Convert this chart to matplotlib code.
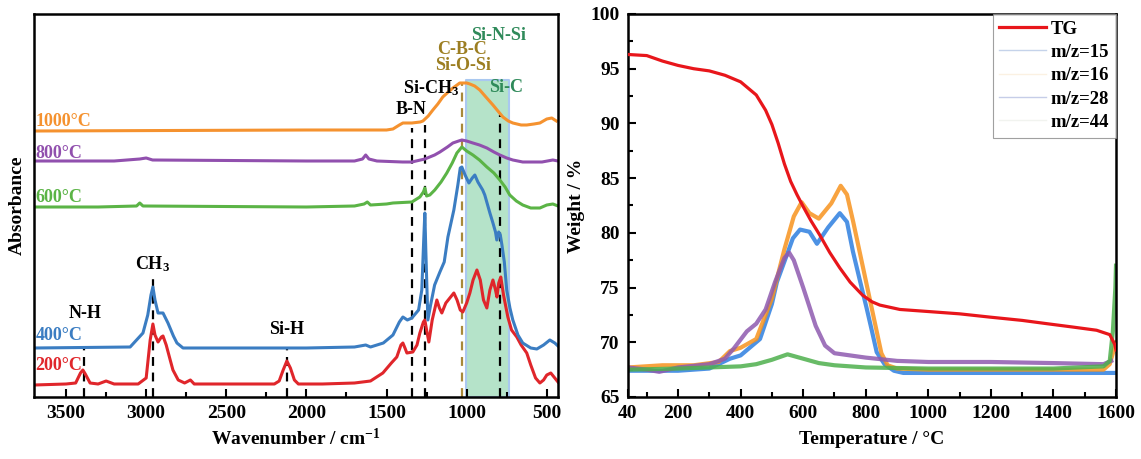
import numpy as np
import matplotlib
matplotlib.use("Agg")
from matplotlib import pyplot as plt
from matplotlib.ticker import MultipleLocator, FixedLocator

plt.rcParams['font.family'] = ['Liberation Serif', 'DejaVu Serif']
plt.rcParams['font.weight'] = 'bold'
plt.rcParams['mathtext.fontset'] = 'custom'
plt.rcParams['mathtext.rm'] = 'Liberation Serif:bold'
plt.rcParams['mathtext.it'] = 'Liberation Serif:bold'
plt.rcParams['mathtext.bf'] = 'Liberation Serif:bold'
plt.rcParams['axes.linewidth'] = 1.8

# ---------------- FTIR spectra (stacked, arbitrary units) ----------------
wn_200 = [3700, 3500, 3440, 3410, 3395, 3380, 3350, 3300, 3250, 3200, 3050, 3000, 2975, 2958, 2945,
          2926, 2905, 2895, 2875, 2850, 2833, 2800, 2760, 2724, 2700, 2200, 2170, 2145, 2122, 2100,
          2075, 2050, 1900, 1700, 1600, 1523, 1470, 1436, 1410, 1398, 1385, 1373, 1336, 1310, 1292,
          1270, 1261, 1250, 1236, 1215, 1186, 1170, 1155, 1130, 1105, 1080, 1060, 1040, 1024, 1000,
          980, 960, 936, 915, 895, 874, 855, 836, 820, 811, 800, 787, 770, 743, 720, 687, 660, 625,
          600, 570, 543, 520, 500, 475, 450, 430]
ab_200 = [12, 13, 14, 24, 27, 23, 14, 13, 16, 13, 13, 19, 57, 73, 62,
          55, 60, 61, 52, 37, 27, 17, 14, 17, 13, 13, 16, 27, 36, 29,
          17, 13, 13, 14, 16, 24, 34, 40, 52, 54, 49, 44, 45, 52, 64,
          75, 77, 67, 55, 77, 97, 89, 84, 94, 99, 104, 97, 87, 85, 94,
          104, 117, 127, 117, 97, 89, 107, 117, 107, 100, 114, 120, 102, 80, 67, 60, 52, 44,
          32, 19, 14, 17, 22, 24, 19, 15]

wn_400 = [3700, 3100, 3020, 2990, 2970, 2958, 2945, 2926, 2895, 2864, 2830, 2808, 2770, 2000, 1700,
          1630, 1600, 1520, 1460, 1420, 1398, 1370, 1342, 1300, 1280, 1268, 1261, 1255, 1242, 1225,
          1200, 1167, 1140, 1117, 1080, 1055, 1040, 1030, 1010, 986, 965, 949, 930, 900, 887, 855,
          836, 820, 812, 800, 790, 780, 765, 750, 730, 712, 680, 650, 600, 562, 520, 481, 450, 430]
ab_400 = [49, 50, 64, 82, 102, 110, 97, 84, 84, 74, 61, 54, 49, 49, 50,
          52, 50, 54, 62, 75, 80, 77, 79, 87, 107, 157, 184, 147, 77, 92,
          112, 125, 135, 160, 187, 212, 229, 230, 222, 214, 219, 222, 215, 207, 202, 184,
          174, 165, 157, 165, 162, 152, 135, 107, 89, 77, 62, 54, 49, 48, 52, 57, 54, 51]

wn_600 = [3700, 3300, 3060, 3040, 3020, 2000, 1700, 1640, 1620, 1600, 1500, 1460, 1342, 1292, 1270,
          1261, 1250, 1230, 1199, 1160, 1124, 1090, 1061, 1030, 1000, 961, 920, 874, 830, 793, 760,
          731, 690, 650, 600, 543, 500, 462, 430]
ab_600 = [190, 190, 191, 194, 191, 190, 191, 193, 195, 192, 193, 194, 195, 200, 205,
          209, 201, 202, 207, 215, 224, 234, 244, 250, 246, 242, 237, 230, 224, 217, 210,
          202, 196, 192, 189, 189, 192, 193, 191]

wn_800 = [3700, 3200, 3040, 3000, 2960, 2000, 1700, 1650, 1630, 1610, 1560, 1400, 1342, 1261, 1200,
          1167, 1120, 1086, 1050, 1030, 1000, 961, 920, 874, 830, 793, 750, 712, 650, 587, 530, 462, 430]
ab_800 = [236, 236, 238, 239, 237, 236, 236, 238, 242, 238, 236, 235, 235, 238, 242,
          245, 250, 254, 256, 257, 256, 254, 252, 249, 245, 242, 239, 237, 235, 235, 235, 237, 236]

wn_1000 = [3700, 2000, 1700, 1600, 1500, 1460, 1420, 1398, 1342, 1290, 1273, 1240, 1211, 1180, 1149,
           1115, 1086, 1060, 1043, 1000, 980, 950, 918, 880, 836, 800, 774, 740, 712, 660, 625, 580,
           543, 500, 469, 440]
ab_1000 = [266, 267, 267, 267, 267, 268, 272, 274, 274, 275, 276, 281, 287, 293, 300,
           305, 309, 312, 314, 314, 313, 311, 307, 300, 292, 285, 280, 276, 274, 272, 272, 273,
           274, 278, 279, 276]

spectra = [
    (wn_200, ab_200, '#E0262B', '200°C', 32),
    (wn_400, ab_400, '#3B7DC2', '400°C', 62),
    (wn_600, ab_600, '#5BB446', '600°C', 199),
    (wn_800, ab_800, '#9150AE', '800°C', 244),
    (wn_1000, ab_1000, '#F5922F', '1000°C', 276),
]

# band assignments: (wavenumber, top of dashed line, colour)
band_lines = [(3390, 49, 'k'), (2958, 120, 'k'), (2122, 49, 'k'), (1342, 269, 'k'),
              (1261, 272, 'k'), (1030, 314, '#A8893A'), (793, 282, 'k')]
band_labels = [
    ("N-H", 3382, 84, 'k'), ("CH$_3$", 2958, 133, 'k'), ("Si-H", 2122, 67, 'k'),
    ("B-N", 1348, 288, 'k'), ("Si-CH$_3$", 1225, 309, 'k'),
    ("Si-O-Si", 1024, 331, '#9C7E22'), ("C-B-C", 1030, 347, '#9C7E22'),
    ("Si-N-Si", 799, 362, '#2F8A5A'), ("Si-C", 756, 309, '#2F8A5A'),
]
sic_band = (1005, 737, 317)

# ---------------- TG / MS ----------------
T_tg = [40, 100, 150, 200, 250, 300, 350, 400, 450, 480, 500, 520, 540, 560, 580, 600, 625, 653,
        685, 717, 750, 790, 820, 845, 909, 1005, 1100, 1197, 1300, 1379, 1460, 1538, 1580, 1596, 1600]
w_tg = [96.3, 96.2, 95.7, 95.3, 95.0, 94.8, 94.4, 93.8, 92.6, 91.2, 89.9, 88.2, 86.3, 84.7, 83.5,
        82.4, 81.1, 79.8, 78.2, 76.8, 75.5, 74.3, 73.7, 73.4, 73.0, 72.8, 72.6, 72.3, 72.0, 71.7,
        71.4, 71.1, 70.7, 69.8, 69.3]

T_15 = [40, 200, 300, 366, 400, 462, 500, 516, 548, 567, 590, 620, 644, 680, 717, 740, 759, 780,
        803, 820, 835, 860, 890, 920, 1000, 1200, 1400, 1600]
ms_15 = [67.4, 67.4, 67.6, 68.5, 68.8, 70.3, 73.5, 75.5, 78.0, 79.5, 80.3, 80.1, 79.0, 80.5, 81.8,
         81.0, 78.3, 75.8, 73.1, 71.0, 69.1, 68.0, 67.4, 67.2, 67.2, 67.2, 67.2, 67.2]

T_16 = [40, 150, 250, 330, 366, 400, 450, 500, 540, 570, 595, 620, 650, 690, 720, 740, 760, 790,
        820, 850, 870, 900, 1000, 1200, 1400, 1560, 1580, 1595, 1600]
ms_16 = [67.7, 67.9, 67.9, 68.2, 69.2, 69.5, 70.3, 74.0, 78.5, 81.5, 82.8, 81.8, 81.3, 82.7, 84.3,
         83.5, 81.0, 77.0, 73.0, 69.0, 67.9, 67.6, 67.5, 67.5, 67.5, 67.5, 68.0, 69.5, 70.0]

T_28 = [40, 100, 140, 200, 300, 350, 380, 420, 450, 480, 510, 540, 555, 570, 600, 640, 670, 700,
        750, 800, 900, 1000, 1200, 1400, 1560, 1585]
ms_28 = [67.7, 67.5, 67.3, 67.7, 68.0, 68.5, 69.5, 71.0, 71.7, 73.0, 75.5, 77.7, 78.2, 77.5, 75.0,
         71.5, 69.7, 69.0, 68.8, 68.6, 68.3, 68.2, 68.2, 68.1, 68.0, 68.3]

T_44 = [40, 200, 300, 400, 450, 500, 550, 600, 650, 700, 800, 1000, 1400, 1560, 1580, 1590, 1598, 1600]
ms_44 = [67.5, 67.6, 67.7, 67.8, 68.0, 68.4, 68.9, 68.5, 68.1, 67.9, 67.7, 67.6, 67.6, 67.8, 68.3,
         71.0, 75.0, 77.0]

ms_curves = [
    (T_15, ms_15, '#2E7FE0', 'm/z=15', '#c5d3ea'),
    (T_16, ms_16, '#F7931E', 'm/z=16', '#fbf1e2'),
    (T_28, ms_28, '#8E5AAF', 'm/z=28', '#c6cde8'),
    (T_44, ms_44, '#4DB04C', 'm/z=44', '#f1f3ef'),
]

W, H = 1141, 459
fig = plt.figure(figsize=(W / 100, H / 100), dpi=100)
ax1 = fig.add_axes([34 / W, 62 / H, 524 / W, 383 / H])
ax2 = fig.add_axes([628 / W, 62 / H, 488 / W, 383 / H])

# ---- left panel ----
ax1.fill_between([sic_band[1], sic_band[0]], 0, sic_band[2], facecolor='#b5e3c9',
                 edgecolor='#a9c8f0', linewidth=1.5, zorder=0)
for _wn, _top, _c in band_lines:
    ax1.plot([_wn, _wn], [0, _top], color=_c, linestyle=(0, (4, 3)), linewidth=1.6, zorder=1)
for _wn, _ab, _c, _lab, _ly in spectra:
    ax1.plot(_wn, _ab, color=_c, linewidth=2.2, zorder=2)
    ax1.text(3690, _ly, _lab, color=_c, fontsize=13, ha='left', va='center')
for _t, _x, _y, _c in band_labels:
    ax1.text(_x, _y, _t, color=_c, fontsize=13, ha='center', va='center', zorder=3)

ax1.set_xlim(3700, 430)
ax1.set_ylim(0, 383)
ax1.set_yticks([])
ax1.xaxis.set_major_locator(FixedLocator([3500, 3000, 2500, 2000, 1500, 1000, 500]))
ax1.xaxis.set_minor_locator(FixedLocator([3250, 2750, 2250, 1750, 1250, 750]))
ax1.tick_params(axis='x', which='major', direction='in', length=6, width=1.5, labelsize=14, pad=6)
ax1.tick_params(axis='x', which='minor', direction='in', length=3.5, width=1.5)
ax1.set_xlabel("Wavenumber / cm$^{-1}$", fontsize=14, fontweight='bold', labelpad=4)
ax1.set_ylabel("Absorbance", fontsize=14, fontweight='bold', labelpad=6)

# ---- right panel ----
for _T, _v, _c, _lab, _lc in ms_curves:
    ax2.plot(_T, _v, color=_c, linewidth=3, alpha=0.85, label=_lab, zorder=2)
ax2.plot(T_tg, w_tg, color='#E8161B', linewidth=2.3, label='TG', zorder=3)

_h, _l = ax2.get_legend_handles_labels()
_order = [4, 0, 1, 2, 3]
leg = ax2.legend([_h[i] for i in _order], [_l[i] for i in _order], loc='upper right',
                 fontsize=13.5, frameon=True, fancybox=False, borderaxespad=0.0,
                 handlelength=2.5, handletextpad=0.25, labelspacing=0.33, borderpad=0.35)
leg.get_frame().set_edgecolor('#888888')
leg.get_frame().set_linewidth(0.8)
_leg_lines = leg.get_lines()
_leg_lines[0].set_linewidth(2.3)
for _ln, (_T, _v, _c, _lab, _lc) in zip(_leg_lines[1:], ms_curves):
    _ln.set_color(_lc)
    _ln.set_linewidth(1.0)
    _ln.set_alpha(1.0)

ax2.set_xlim(40, 1600)
ax2.set_ylim(65, 100)
ax2.xaxis.set_major_locator(FixedLocator([40, 200, 400, 600, 800, 1000, 1200, 1400, 1600]))
ax2.xaxis.set_minor_locator(FixedLocator([100, 300, 500, 700, 900, 1100, 1300, 1500]))
ax2.yaxis.set_major_locator(MultipleLocator(5))
ax2.yaxis.set_minor_locator(MultipleLocator(2.5))
ax2.tick_params(which='major', direction='in', length=6, width=1.5, labelsize=14, pad=6)
ax2.tick_params(which='minor', direction='in', length=3.5, width=1.5)
ax2.set_xlabel("Temperature / °C", fontsize=14, fontweight='bold', labelpad=6)
ax2.set_ylabel("Weight / %", fontsize=14, fontweight='bold', labelpad=4)

for _ax in (ax1, ax2):
    for _lbl in _ax.get_xticklabels() + _ax.get_yticklabels():
        _lbl.set_fontweight('bold')

fig.savefig("out.png", dpi=100)
plt.close()
